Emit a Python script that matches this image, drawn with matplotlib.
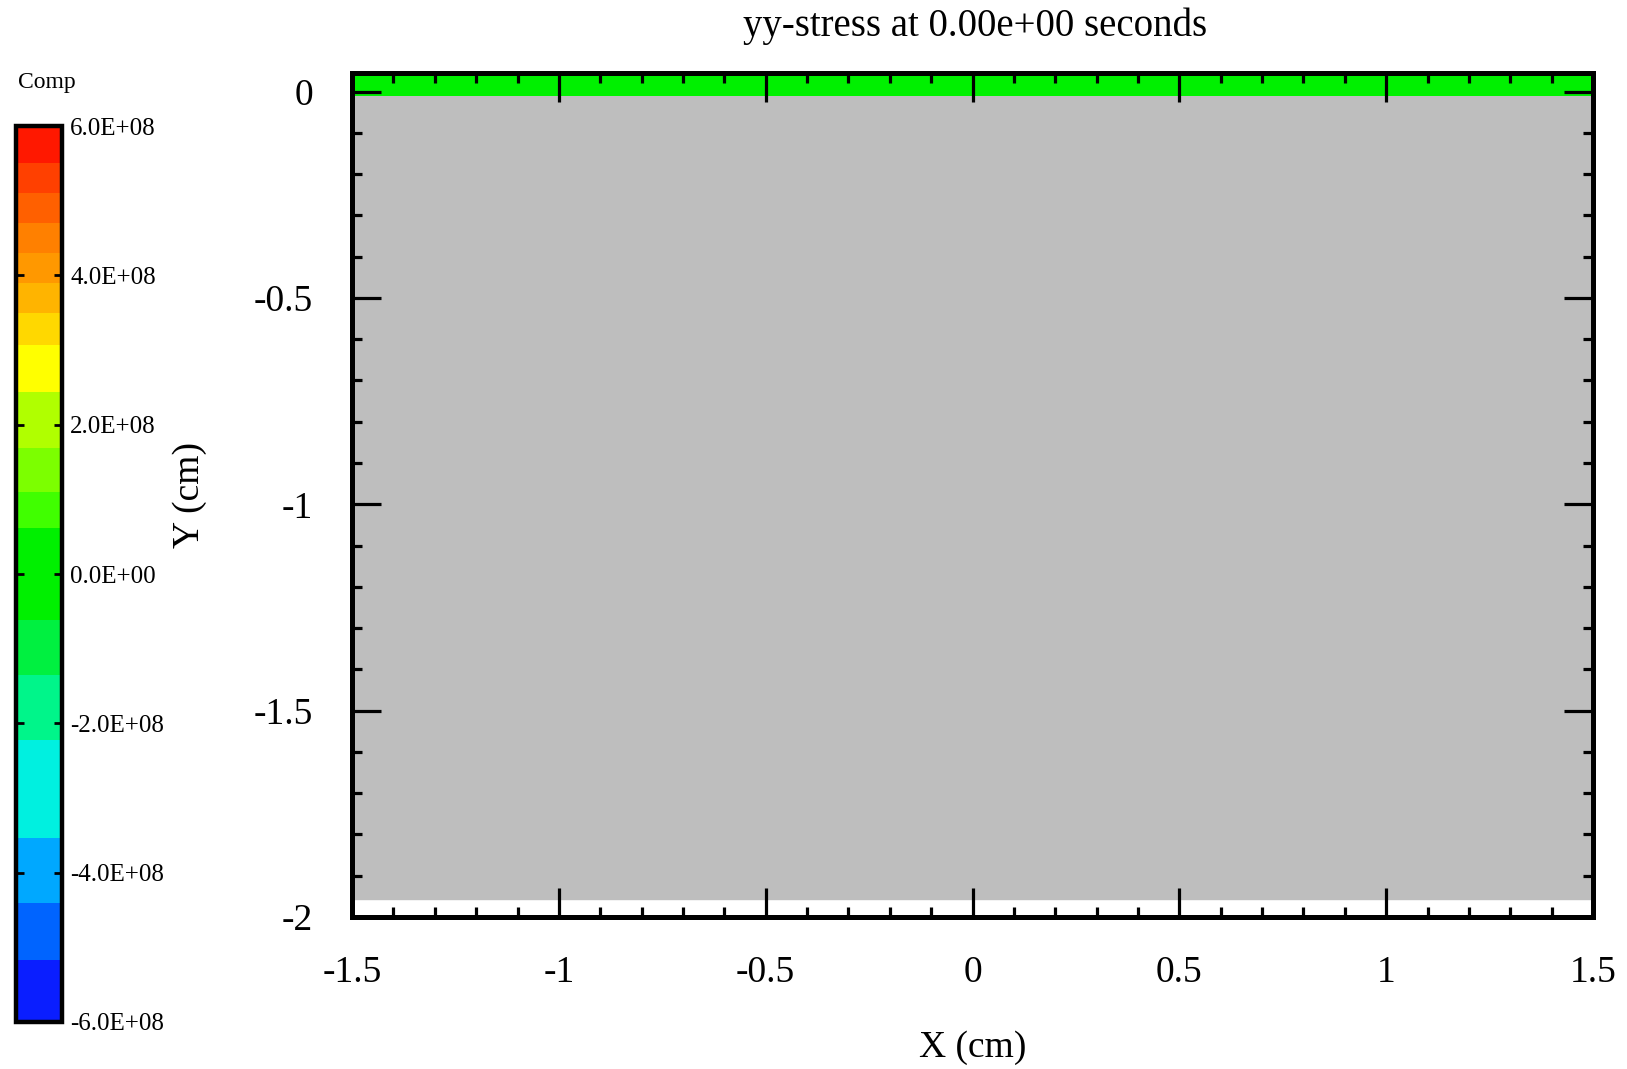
import numpy as np
import matplotlib
matplotlib.use("Agg")
import matplotlib.pyplot as plt
from matplotlib.colors import ListedColormap, BoundaryNorm
from matplotlib.ticker import MultipleLocator, FormatStrFormatter

plt.rcParams['font.family'] = ['Liberation Serif', 'DejaVu Serif']

# colour levels of the legend (Pa)
level_bounds = [-6.0e8, -5.17e8, -4.41e8, -3.54e8, -2.22e8, -1.35e8, -0.62e8, 0.62e8,
                1.10e8, 1.69e8, 2.44e8, 3.07e8, 3.5e8, 3.9e8, 4.3e8, 4.7e8, 5.1e8,
                5.5e8, 6.0e8]
level_colors = ['#0a1eff', '#0064ff', '#00a8ff', '#00f0e0', '#00f58a', '#00f040',
                '#00f000', '#40ff00', '#7cff00', '#b0ff00', '#ffff00', '#ffd800',
                '#ffb400', '#ff9800', '#ff8000', '#ff6000', '#ff4000', '#ff1800']
cbar_ticks = [-6e8, -4e8, -2e8, 0, 2e8, 4e8, 6e8]

# domain
x_extent = [-1.5, 1.5]
y_limits = [-2.0, 0.045]

# stressed top layer (yy-stress = 0 at t = 0)
layer_y = [-0.01, 0.045]
layer_stress = 0.0

# unstressed substrate, drawn grey
substrate_y = [-1.956, -0.01]

cmap = ListedColormap(level_colors)
norm = BoundaryNorm(level_bounds, cmap.N)

fig = plt.figure(figsize=(16.27, 10.69), dpi=100)
ax = fig.add_axes([0.2164, 0.1422, 0.7627, 0.7895])

ax.axhspan(substrate_y[0], substrate_y[1], color='#bebebe', zorder=0)
mesh = ax.pcolormesh(x_extent, layer_y, np.array([[layer_stress]]),
                     cmap=cmap, norm=norm, zorder=1)

ax.set_xlim(x_extent)
ax.set_ylim(y_limits)

ax.xaxis.set_major_locator(MultipleLocator(0.5))
ax.xaxis.set_minor_locator(MultipleLocator(0.1))
ax.yaxis.set_major_locator(MultipleLocator(0.5))
ax.yaxis.set_minor_locator(MultipleLocator(0.1))
ax.xaxis.set_major_formatter(FormatStrFormatter('%g'))
ax.yaxis.set_major_formatter(FormatStrFormatter('%g'))

ax.tick_params(which='both', direction='in', top=True, right=True, width=2.3,
               labelsize=27, zorder=5)
ax.tick_params(which='major', length=21, pad=28)
ax.tick_params(which='minor', length=7)
for s in ax.spines.values():
    s.set_linewidth(3.6)
    s.set_zorder(6)

ax.set_xlabel('X (cm)', fontsize=27)
ax.set_ylabel('Y (cm)', fontsize=27)
ax.xaxis.label.set_va('center')
ax.yaxis.label.set_va('center')
ax.xaxis.set_label_coords(0.5, -0.155)
ax.yaxis.set_label_coords(-0.1305, 0.5)

fig.text(0.5993, 0.9757, 'yy-stress at 0.00e+00 seconds', fontsize=28,
         ha='center', va='center')

# colour legend
cax = fig.add_axes([0.0098, 0.044, 0.0283, 0.838])
cb = fig.colorbar(mesh, cax=cax, ticks=cbar_ticks, spacing='proportional')
cb.ax.yaxis.set_major_formatter(FormatStrFormatter('%.1E'))
cb.ax.tick_params(direction='in', length=6, width=2, left=True, right=True,
                  labelsize=18, pad=6)
cb.ax.minorticks_off()
cb.outline.set_linewidth(3.2)
fig.text(0.0289, 0.9224, 'Comp', fontsize=17, ha='center', va='center')

fig.savefig('out.png', dpi=100)
